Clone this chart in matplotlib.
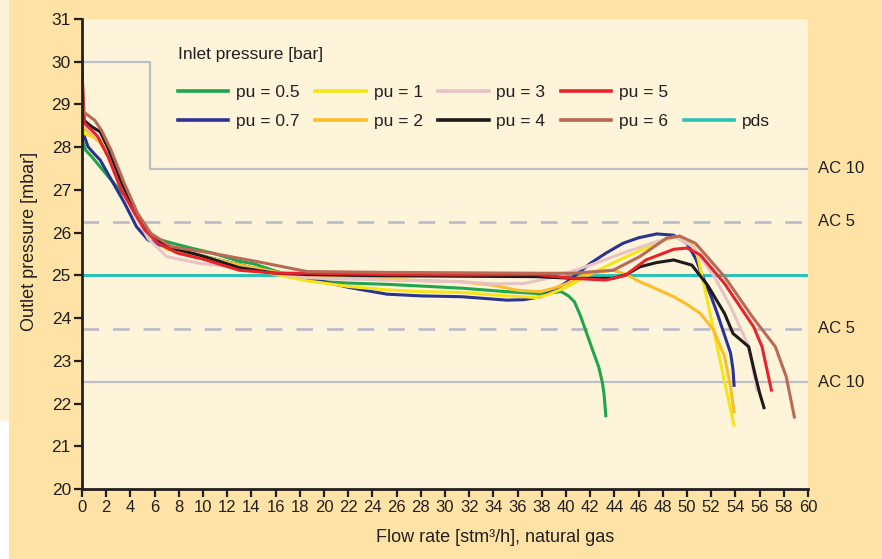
import matplotlib
matplotlib.use('Agg')
import matplotlib.pyplot as plt
from matplotlib.lines import Line2D
from matplotlib.patches import Rectangle

# Curve data (flow rate stm3/h, outlet pressure mbar)
pu05_x = [0, 0.1, 0.3, 0.8, 1.5, 2.2, 2.9, 3.6, 4.2, 4.8, 5.3, 6, 7.5, 9, 10.8, 13, 14.2, 16, 18.6, 20, 22,
          25.2, 28, 31.4, 35, 37.9, 39.0, 39.6, 40.2, 40.7, 41.2, 41.7, 42.2, 42.7, 43.0, 43.15, 43.3]
pu05_y = [28.3, 28.1, 27.93, 27.78, 27.54, 27.3, 27.07, 26.85, 26.6, 26.25, 26.02, 25.87, 25.75, 25.64, 25.52,
          25.33, 25.27, 25.1, 24.9, 24.85, 24.82, 24.79, 24.75, 24.7, 24.62, 24.57, 24.6, 24.62, 24.52, 24.38,
          24.05, 23.65, 23.25, 22.86, 22.5, 22.2, 21.68]

pu07_x = [0, 0.05, 0.1, 0.5, 1.0, 1.5, 2.4, 3.5, 4.5, 5.45, 6.5, 8, 10, 13, 16, 18.6, 20, 22, 25.2, 28, 31.4,
          35.1, 36.5, 37.9, 39, 40.1, 41, 42, 43.3, 44.7, 46, 47.5, 48.9, 50.0, 50.7, 51.3, 52.0, 52.5, 53.1,
          53.6, 53.8, 53.9]
pu07_y = [30.0, 29.0, 28.33, 28.01, 27.85, 27.7, 27.25, 26.7, 26.14, 25.83, 25.7, 25.6, 25.45, 25.25, 25.05,
          24.92, 24.85, 24.72, 24.56, 24.52, 24.5, 24.42, 24.43, 24.5, 24.65, 24.85, 25.05, 25.28, 25.52, 25.75,
          25.88, 25.97, 25.94, 25.75, 25.4, 24.97, 24.5, 24.11, 23.6, 23.18, 22.8, 22.39]

pu1_x = [0, 0.2, 0.8, 1.5, 2.2, 3.3, 4.4, 5.5, 7, 10, 13, 16, 18.6, 20, 22, 25.2, 28, 31.4, 35, 37.6, 38.5,
         40.1, 42, 44.7, 47.5, 48.9, 50.4, 50.8, 51.5, 52.2, 53.0, 53.9]
pu1_y = [28.7, 28.32, 28.25, 28.17, 27.85, 27.1, 26.45, 25.95, 25.62, 25.45, 25.24, 25.02, 24.87, 24.82, 24.74,
         24.66, 24.62, 24.6, 24.52, 24.48, 24.55, 24.73, 25.03, 25.4, 25.75, 25.9, 25.75, 25.55, 24.65, 23.72,
         22.65, 21.46]

pu2_x = [0, 0.2, 0.8, 1.5, 2.2, 3.3, 4.4, 5.5, 7, 10, 13, 16, 18.6, 22, 25.2, 28, 31.4, 34, 36, 37.9, 39, 40.1,
         41, 42, 43.9, 45, 46.1, 47.5, 48.9, 50, 51.1, 52.2, 53.1, 53.6, 53.9]
pu2_y = [28.6, 28.45, 28.3, 28.1, 27.8, 27.05, 26.4, 25.95, 25.62, 25.42, 25.24, 25.08, 25.0, 24.94, 24.91, 24.88,
         24.85, 24.77, 24.65, 24.62, 24.7, 24.81, 24.95, 25.05, 25.12, 25.02, 24.85, 24.68, 24.5, 24.32, 24.11,
         23.72, 23.1, 22.39, 21.77]

pu3_x = [0, 0.2, 0.8, 1.5, 2.2, 3.3, 4.4, 5.5, 7, 9.75, 13, 16, 18.6, 25, 31.4, 34, 36.5, 39.2, 42, 44.7, 47.5,
         49.1, 50.5, 52.2, 53.6, 55.0, 55.4, 55.8]
pu3_y = [28.8, 28.5, 28.35, 28.15, 27.8, 27.05, 26.4, 25.85, 25.44, 25.28, 25.18, 25.05, 24.94, 24.89, 24.85,
         24.8, 24.81, 24.97, 25.24, 25.52, 25.79, 25.9, 25.67, 25.0, 24.27, 23.4, 22.9, 22.28]

pu4_x = [0, 0.2, 0.8, 1.5, 2.2, 3.3, 4.4, 5.3, 7, 10, 13, 16, 18.6, 25, 31.4, 37.6, 40.6, 43.9, 45, 46.1, 47.5,
         48.9, 50.4, 51.7, 53.1, 53.8, 54.6, 55.1, 55.6, 56.0, 56.4]
pu4_y = [28.9, 28.62, 28.48, 28.36, 27.95, 27.15, 26.5, 26.06, 25.67, 25.45, 25.18, 25.05, 25.02, 24.99, 24.98,
         24.97, 24.93, 24.93, 25.02, 25.2, 25.3, 25.36, 25.24, 24.77, 24.11, 23.64, 23.45, 23.33, 22.71, 22.25,
         21.87]

pu5_x = [0, 0.2, 0.8, 1.3, 2.15, 3.25, 4.35, 5.2, 6.3, 7.9, 10, 13, 16, 18.6, 25, 31.4, 37.6, 40.6, 43.3, 44.9,
         46.6, 48.9, 50, 51.1, 53.1, 55.5, 56.2, 57.0]
pu5_y = [29.8, 28.56, 28.4, 28.25, 27.78, 27.0, 26.46, 26.06, 25.75, 25.52, 25.38, 25.12, 25.05, 25.05, 25.02,
         25.01, 25.02, 24.93, 24.89, 25.0, 25.36, 25.61, 25.64, 25.48, 24.81, 23.8, 23.33, 22.28]

pu6_x = [0, 0.1, 1.05, 1.6, 2.4, 3.5, 4.6, 5.7, 7.4, 10.7, 14.5, 18.6, 25, 31.4, 37.6, 40.6, 42, 43.9, 46.1,
         48.3, 49.4, 50.7, 53.1, 55.4, 57.3, 58.2, 58.9]
pu6_y = [29.6, 28.83, 28.63, 28.4, 27.93, 27.15, 26.45, 25.98, 25.67, 25.52, 25.32, 25.09, 25.07, 25.06, 25.05,
         25.05, 25.08, 25.12, 25.44, 25.87, 25.92, 25.75, 24.97, 24.03, 23.33, 22.63, 21.65]

# Limit lines
pds = 25.0
ac5_levels = [26.25, 23.75]
ac10_low = 22.5
ac10_up_x = [0, 5.6, 5.6, 60]
ac10_up_y = [30, 30, 27.5, 27.5]
side_labels = [('AC 10', 27.5), ('AC 5', 26.25), ('AC 5', 23.75), ('AC 10', 22.5)]

series = [
    ('pu = 0.5', pu05_x, pu05_y, '#1fa64a'),
    ('pu = 0.7', pu07_x, pu07_y, '#2a3391'),
    ('pu = 1', pu1_x, pu1_y, '#f7e415'),
    ('pu = 2', pu2_x, pu2_y, '#fbbd2a'),
    ('pu = 3', pu3_x, pu3_y, '#e8c3c6'),
    ('pu = 4', pu4_x, pu4_y, '#1c1a1a'),
    ('pu = 5', pu5_x, pu5_y, '#e8232b'),
    ('pu = 6', pu6_x, pu6_y, '#b96a54'),
]

x_ticks = list(range(0, 61, 2))
y_ticks = list(range(20, 32))

plt.rcParams['font.family'] = 'Liberation Sans'

ink = '#231f20'
grey = '#bcbec8'
teal = '#2ec2b7'

fig = plt.figure(figsize=(8.82, 5.59), dpi=100, facecolor='#fee2a6')
# left strip of the page
fig.patches.append(Rectangle((0, 0.247), 9 / 882, 0.753, transform=fig.transFigure,
                             facecolor='#fdf2d8', edgecolor='none', zorder=0))
fig.patches.append(Rectangle((0, 0), 9 / 882, 0.247, transform=fig.transFigure,
                             facecolor='white', edgecolor='none', zorder=0))

ax = fig.add_axes([82 / 882, 70 / 559, 726 / 882, 470 / 559])
ax.set_facecolor('#fef4da')

# Limit lines
ax.plot(ac10_up_x, ac10_up_y, color=grey, lw=1.6, zorder=1)
ax.axhline(ac10_low, color=grey, lw=1.6, zorder=1)
for lev in ac5_levels:
    ax.axhline(lev, color=grey, lw=2, dashes=(6, 5), zorder=1)
ax.axhline(pds, color=teal, lw=2.2, zorder=1)

for label, xs, ys, col in series:
    ax.plot(xs, ys, color=col, lw=2.2, solid_capstyle='butt', label=label, zorder=2)

for txt, lev in side_labels:
    ax.text(60.8, lev, txt, fontsize=12, color=ink, va='center', ha='left')

ax.set_xlim(0, 60)
ax.set_ylim(20, 31)
ax.set_xticks(x_ticks)
ax.set_yticks(y_ticks)
ax.tick_params(axis='both', direction='out', length=6, width=1.6, color=ink, labelcolor=ink, pad=2)
ax.tick_params(axis='x', labelsize=12)
ax.tick_params(axis='y', labelsize=12.5)
for side in ['top', 'right']:
    ax.spines[side].set_visible(False)
for side in ['left', 'bottom']:
    ax.spines[side].set_linewidth(2)
    ax.spines[side].set_color(ink)

fig.text(30 / 882, 1 - 241 / 559, 'Outlet pressure [mbar]', rotation=90, fontsize=13,
         color=ink, ha='center', va='center')
fig.text(495 / 882, 1 - 537 / 559, 'Flow rate [stm³/h], natural gas', fontsize=13,
         color=ink, ha='center', va='center')

# Legend: title as its own text, then 5 columns in column-major order with a blank slot above pds
fig.text(178 / 882, 1 - 55 / 559, 'Inlet pressure [bar]', fontsize=12.5, color=ink,
         ha='left', va='center')
handles = [Line2D([], [], color=c, lw=2.6) for _, _, _, c in series]
labels = [s[0] for s in series]
handles += [Line2D([], [], color='none'), Line2D([], [], color=teal, lw=2.6)]
labels += ['', 'pds']
leg = fig.legend(handles, labels, loc='upper left', bbox_to_anchor=(178 / 882, 1 - 85 / 559),
                 ncol=5, frameon=False, fontsize=12.5, handlelength=2.9, handletextpad=0.45,
                 columnspacing=0.9, labelspacing=0.8, borderpad=0, borderaxespad=0)
for t in leg.get_texts():
    t.set_color(ink)

fig.savefig('out.png', dpi=100, facecolor=fig.get_facecolor())
